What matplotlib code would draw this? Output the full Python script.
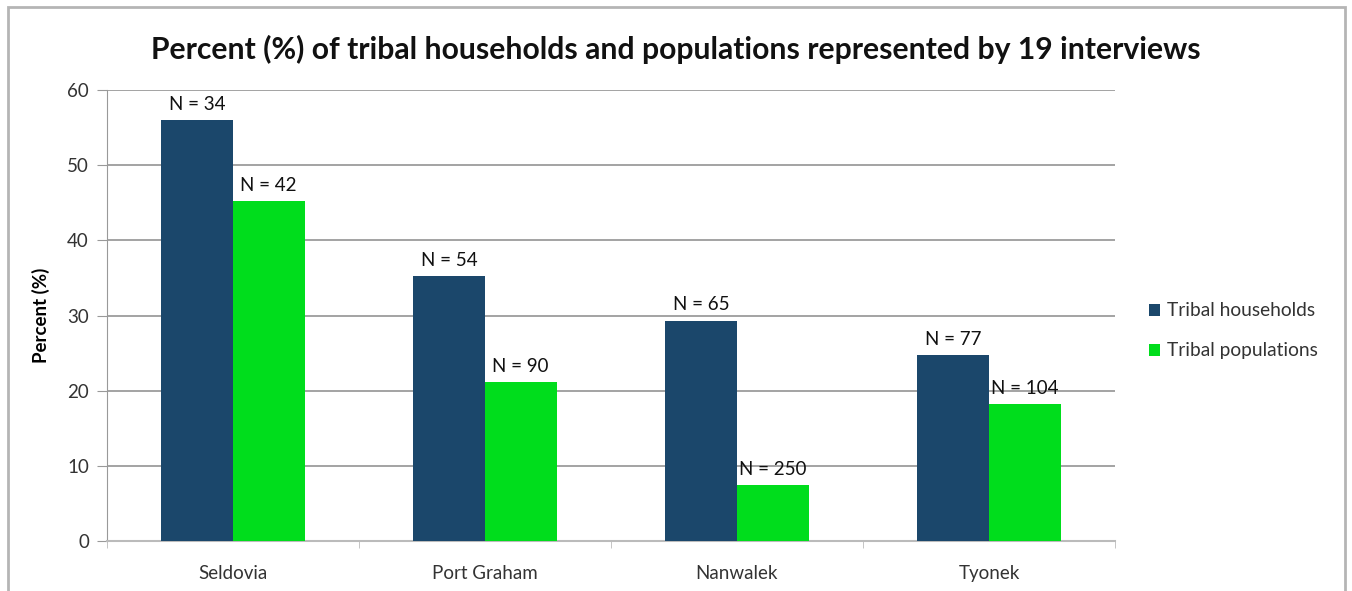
import matplotlib
matplotlib.use('Agg')
import matplotlib.pyplot as plt
from matplotlib.patches import Rectangle
import numpy as np

places = ['Seldovia', 'Port Graham', 'Nanwalek', 'Tyonek']
households = [56.0, 35.2, 29.3, 24.7]
populations = [45.2, 21.1, 7.4, 18.2]
n_households = ['N = 34', 'N = 54', 'N = 65', 'N = 77']
n_populations = ['N = 42', 'N = 90', 'N = 250', 'N = 104']
yticks = [0, 10, 20, 30, 40, 50, 60]

plt.rcParams['font.family'] = ['Lato', 'DejaVu Sans']

fig = plt.figure(figsize=(13.52, 5.91), dpi=100)
ax = fig.add_axes([0.0791, 0.0846, 0.7456, 0.7631])

x = np.arange(len(places))
w = 0.284
b1 = ax.bar(x - w/2, households, w, color='#1b476b', label='Tribal households', zorder=3)
b2 = ax.bar(x + w/2, populations, w, color='#00dd1c', label='Tribal populations', zorder=3)

for bars, labs in ((b1, n_households), (b2, n_populations)):
    for r, lab in zip(bars, labs):
        ax.text(r.get_x() + r.get_width()/2, r.get_height() + 1.0, lab,
                ha='center', va='bottom', fontsize=13.5, color='#111111', zorder=4)

ax.set_xlim(-0.5, len(places) - 0.5)
ax.set_ylim(0, 60)
ax.set_yticks(yticks)
ax.set_yticklabels([str(t) for t in yticks], fontsize=13.5, color='#333333')
ax.yaxis.grid(True, color='#8a8a8a', lw=1.1, zorder=0)
ax.set_xticks(x)
ax.set_xticklabels(places, fontsize=13.5, color='#333333')
ax.tick_params(axis='x', length=0, pad=17)
ax.set_xticks(np.arange(-0.5, len(places)), minor=True)
ax.tick_params(axis='x', which='minor', length=5, color='#bbbbbb')
ax.tick_params(axis='y', length=7, color='#999999', pad=6)
for s in ('top', 'right'):
    ax.spines[s].set_visible(False)
ax.spines['left'].set_color('#999999')
ax.spines['bottom'].set_color('#bbbbbb')
ax.spines['bottom'].set_linewidth(1.5)
ax.set_ylabel('Percent (%)', fontsize=13.5, fontweight='bold', labelpad=12)

ax.set_title('Percent (%) of tribal households and populations represented by 19 interviews',
             fontsize=21.7, fontweight='bold', x=0.5645, y=1.05, color='#111111')

fig.legend(handles=[b1, b2], loc='center left', bbox_to_anchor=(0.837, 0.44),
           frameon=False, fontsize=13.8, handlelength=0.6, handleheight=0.6,
           handletextpad=0.35, labelspacing=1.2, labelcolor='#333333')

fig.patches.append(Rectangle((8/1352, -0.1), 1337/1352, 1.1 - 7/591,
                             transform=fig.transFigure, fill=False,
                             edgecolor='#b5b5b5', lw=2))

fig.savefig('out.png', dpi=100)
